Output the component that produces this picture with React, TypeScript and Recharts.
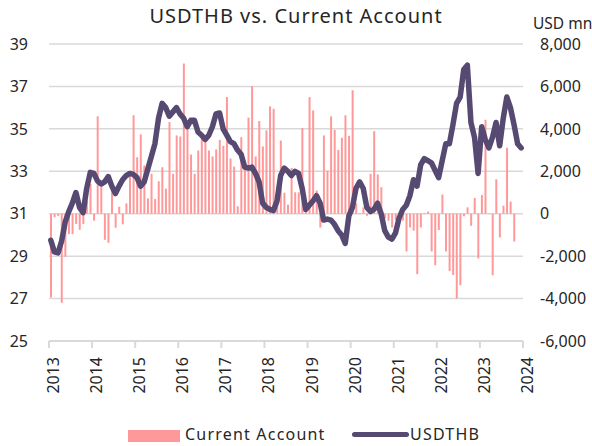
import { ComposedChart, Bar, Line, XAxis, YAxis, CartesianGrid } from "recharts";

const years = ["2013", "2014", "2015", "2016", "2017", "2018", "2019", "2020", "2021", "2022", "2023", "2024"];
const yearTicks = years.map((_, i) => i * 12);

// USDTHB, monthly from Jan 2013 to Dec 2023
const usdthb = [
  29.75, 29.2, 29.15, 29.7, 30.6, 31.1, 31.5, 32.0, 31.3, 31.05, 32.2, 32.95,
  32.9, 32.55, 32.4, 32.5, 32.75, 32.3, 31.95, 32.3, 32.6, 32.8, 32.9, 32.85,
  32.7, 32.3, 32.5, 33.1, 33.7, 34.3, 35.5, 36.2, 36.0, 35.6, 35.8, 36.0,
  35.7, 35.5, 35.1, 35.4, 35.4, 34.85, 34.7, 34.5, 34.7, 35.1, 35.7, 35.75,
  35.0, 34.7, 34.4, 34.3, 34.0, 33.8, 33.2, 33.15, 33.2, 32.9, 32.5, 31.5,
  31.3, 31.2, 31.15, 31.6, 32.8, 33.15, 33.0, 32.8, 33.0, 32.9, 32.2, 31.2,
  31.4, 31.6, 31.85, 31.5, 30.7, 30.75, 30.7, 30.5, 30.2, 30.0, 29.6, 30.9,
  31.3, 32.2, 32.5, 32.2, 31.3, 31.1, 31.2, 31.5, 31.0, 30.2, 29.9, 29.8,
  30.1, 30.8, 31.2, 31.4, 31.85, 32.6, 32.3, 33.3, 33.6, 33.5, 33.4, 33.05,
  32.7, 33.5, 34.3, 34.3, 35.2, 36.2, 36.5, 37.8, 38.0, 35.3, 34.6, 32.9,
  35.1, 34.5, 34.1, 34.6, 35.3, 34.2, 35.5, 36.5, 36.0, 35.2, 34.3, 34.1,
];

// Current account, USD mn
const currentAccount = [
  -3950, -170, -100, -4200, -2030, -960, -960, -480, -760, -480, 600, 1400,
  -330, 4590, 1270, -1230, -1370, 1270, -660, 330, -500, 490, 1880, 4640,
  2660, 3740, 2270, 720, 1880, 690, 1530, 2190, 1180, 4320, 1880, 3690,
  3640, 7080, 4080, 2790, 1880, 2980, 3610, 3450, 2980, 2700, 3030, 3480,
  3200, 5500, 2600, 2220, 350, 3610, 2400, 4530, 6010, 2700, 4370, 3170,
  3930, 5060, 4950, 600, 3450, 990, 425, 2160, 1010, 1010, 4040, 600,
  5500, 4870, 1090, -650, 3690, 2030, 4590, 3950, 3010, 3580, 4640, 3670,
  5820, 500, 30, 300, -100, 1880, 3890, 1850, 1250, -220, -330, -650,
  -300, -200, -330, -1780, -650, -800, -2850, -650, 40, 100, -1780, -2430,
  -770, 900, -1780, -2700, -2890, -4000, -3370, -120, 300, -570, 740, -2110,
  880, 4430, 20, -2900, 1620, -1120, 380, 3110, 570, -1310, null, null,
];

const data = usdthb.map((v, i) => ({ x: i + 0.5, usdthb: v, ca: currentAccount[i] }));

const FONT = "'Noto Sans', sans-serif";
const TEXT = "#262626";

const YearTick = (props: any) => {
  const { x, y, payload } = props;
  return (
    <text
      x={x}
      y={y}
      transform={`rotate(-90 ${x} ${y})`}
      textAnchor="end"
      dy={10}
      fontSize={16}
      fill={TEXT}
      fontFamily={FONT}
    >
      {years[Math.round(payload.value / 12)]}
    </text>
  );
};

export default function App() {
  return (
    <div
      style={{
        position: "absolute",
        left: 0,
        top: 0,
        width: 592,
        height: 446,
        background: "#fff",
        fontFamily: FONT,
        color: TEXT,
      }}
    >
      <div
        style={{
          position: "absolute",
          top: 2,
          left: 0,
          width: 592,
          textAlign: "center",
          fontSize: 20,
          letterSpacing: 1,
        }}
      >
        USDTHB vs. Current Account
      </div>
      <div style={{ position: "absolute", top: 12, left: 533, fontSize: 15.5, whiteSpace: "nowrap" }}>USD mn</div>

      <ComposedChart width={592} height={446} data={data} margin={{ top: 44, right: 0, bottom: 45, left: 0 }}>
        <CartesianGrid yAxisId="left" vertical={false} stroke="#d9d9d9" strokeWidth={1.5} />
        <XAxis
          dataKey="x"
          type="number"
          domain={[0, 132]}
          ticks={yearTicks}
          interval={0}
          height={60}
          stroke="#d9d9d9"
          strokeWidth={2}
          tickSize={7}
          tickMargin={9}
          tick={<YearTick />}
        />
        <YAxis
          yAxisId="left"
          orientation="left"
          width={49}
          domain={[25, 39]}
          ticks={[25, 27, 29, 31, 33, 35, 37, 39]}
          axisLine={false}
          tickLine={false}
          tickSize={6}
          tickMargin={15}
          tick={{ fontSize: 16, fill: TEXT, fontFamily: FONT }}
        />
        <YAxis
          yAxisId="right"
          orientation="right"
          width={69}
          domain={[-6000, 8000]}
          ticks={[-6000, -4000, -2000, 0, 2000, 4000, 6000, 8000]}
          tickFormatter={(v: number) => v.toLocaleString("en-US")}
          axisLine={false}
          tickLine={false}
          tickSize={6}
          tickMargin={11}
          tick={{ fontSize: 16, fill: TEXT, fontFamily: FONT, textAnchor: "start" }}
        />
        <Bar yAxisId="right" dataKey="ca" fill="#ff9999" barSize={2} isAnimationActive={false} />
        <Line
          yAxisId="left"
          dataKey="usdthb"
          type="linear"
          stroke="#574a72"
          strokeWidth={5.5}
          strokeLinejoin="round"
          strokeLinecap="round"
          dot={false}
          activeDot={false}
          isAnimationActive={false}
        />
      </ComposedChart>

      <div style={{ position: "absolute", top: 424, left: 0, width: 592, height: 22, fontSize: 16, letterSpacing: 1.2 }}>
        <div style={{ position: "absolute", left: 128, top: 6, width: 52, height: 12, background: "#ff9999" }} />
        <div style={{ position: "absolute", left: 185, top: -1, whiteSpace: "nowrap" }}>Current Account</div>
        <div style={{ position: "absolute", left: 352, top: 8, width: 57, height: 5, borderRadius: 3, background: "#574a72" }} />
        <div style={{ position: "absolute", left: 410, top: -1, whiteSpace: "nowrap" }}>USDTHB</div>
      </div>
    </div>
  );
}
